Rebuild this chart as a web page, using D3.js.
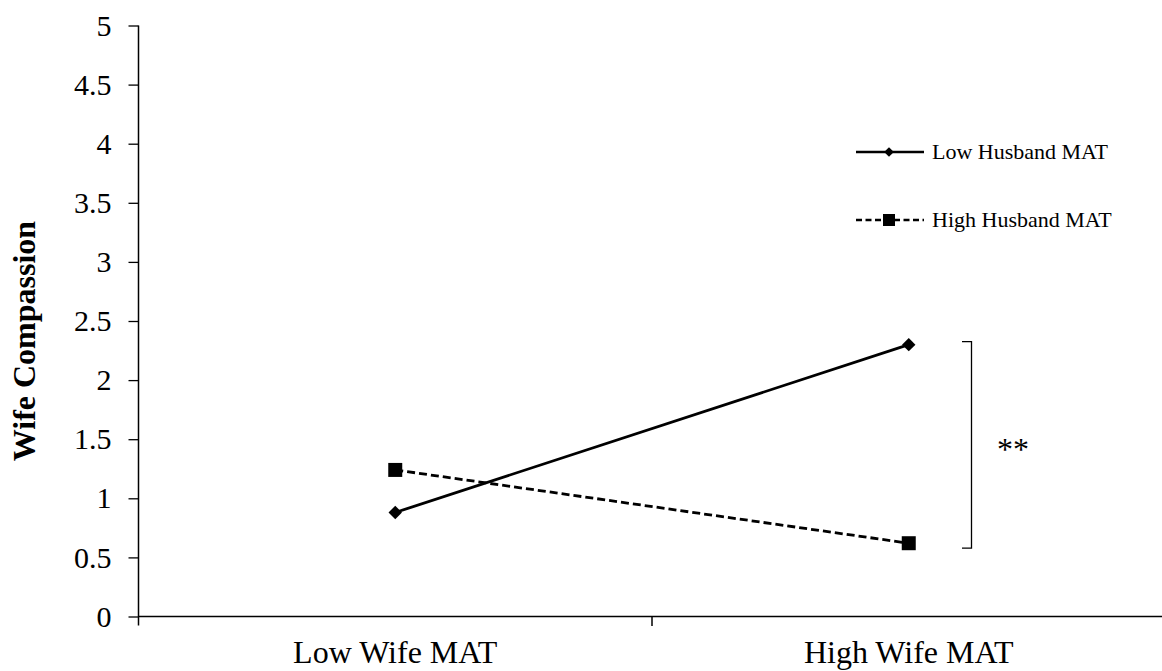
<!DOCTYPE html>
<html><head><meta charset="utf-8">
<script src="https://cdn.jsdelivr.net/npm/d3@7"></script>
<style>body{margin:0;background:#fff}svg{display:block}text{font-family:"Liberation Serif","Times New Roman",serif;fill:#000}</style>
</head><body>
<svg id="c" width="1162" height="671"></svg>
<script>
const categories = ["Low Wife MAT", "High Wife MAT"];
const lowHusband = [0.88, 2.30];
const highHusband = [1.24, 0.62];
const seriesNames = ["Low Husband MAT", "High Husband MAT"];
const yTicks = [0, 0.5, 1, 1.5, 2, 2.5, 3, 3.5, 4, 4.5, 5];

const svg = d3.select("#c");
const x = d3.scaleBand().domain(categories).range([138.5, 1165.5]);
const y = d3.scaleLinear().domain([0, 5]).range([616.5, 25.5]);

// y axis
const ya = svg.append("g").attr("transform", "translate(138.5,0)")
  .call(d3.axisLeft(y).tickValues(yTicks).tickSize(10).tickPadding(17).tickFormat(d => String(d)));
ya.attr("font-size", 30).attr("font-family", "Liberation Serif");
ya.select(".domain").remove();
ya.selectAll("line").attr("stroke", "#000").attr("stroke-width", 1.3);
ya.selectAll("text").attr("fill", "#000");
svg.append("line").attr("x1", 138.5).attr("x2", 138.5).attr("y1", 25.5).attr("y2", 625.5)
  .attr("stroke", "#000").attr("stroke-width", 1.5);

// x axis
svg.append("line").attr("x1", 138.5).attr("x2", 1162).attr("y1", 616.5).attr("y2", 616.5)
  .attr("stroke", "#000").attr("stroke-width", 1.5);
const bounds = categories.slice(1).map(c => x(c));
svg.selectAll(".xt").data(bounds).enter().append("line")
  .attr("x1", d => d).attr("x2", d => d).attr("y1", 616.5).attr("y2", 626)
  .attr("stroke", "#000").attr("stroke-width", 1.5);
svg.selectAll(".xl").data(categories).enter().append("text")
  .attr("x", d => x(d) + x.bandwidth() / 2).attr("y", 663)
  .attr("text-anchor", "middle").style("font-size", "32px").text(d => d);

// y title
svg.append("text").attr("transform", "translate(35,341) rotate(-90)")
  .attr("text-anchor", "middle").style("font-size", "32px").attr("font-weight", "bold").text("Wife Compassion");

const cx = c => x(c) + x.bandwidth() / 2;
const line = d3.line().x((d, i) => cx(categories[i])).y(d => y(d));

svg.append("path").datum(lowHusband).attr("d", line).attr("fill", "none")
  .attr("stroke", "#000").attr("stroke-width", 2.8);
svg.append("path").datum(highHusband).attr("d", line).attr("fill", "none")
  .attr("stroke", "#000").attr("stroke-width", 2.8).attr("stroke-dasharray", "8,4");

const diamond = d3.symbol().type(d3.symbolDiamond2).size(115);
const square = d3.symbol().type(d3.symbolSquare).size(196);
svg.selectAll(".dm").data(lowHusband).enter().append("path")
  .attr("d", diamond).attr("transform", (d, i) => `translate(${cx(categories[i])},${y(d)})`)
  .attr("fill", "#000");
svg.selectAll(".sq").data(highHusband).enter().append("path")
  .attr("d", square).attr("transform", (d, i) => `translate(${cx(categories[i])},${y(d)})`)
  .attr("fill", "#000");

// legend
const legY = [152, 220];
svg.append("line").attr("x1", 856).attr("x2", 924).attr("y1", legY[0]).attr("y2", legY[0])
  .attr("stroke", "#000").attr("stroke-width", 2.6);
svg.append("path").attr("d", d3.symbol().type(d3.symbolDiamond2).size(60))
  .attr("transform", `translate(889,${legY[0]})`).attr("fill", "#000");
svg.append("line").attr("x1", 856).attr("x2", 924).attr("y1", legY[1]).attr("y2", legY[1])
  .attr("stroke", "#000").attr("stroke-width", 2.6).attr("stroke-dasharray", "6,3.5");
svg.append("path").attr("d", d3.symbol().type(d3.symbolSquare).size(144))
  .attr("transform", `translate(889,${legY[1]})`).attr("fill", "#000");
svg.selectAll(".lt").data(seriesNames).enter().append("text")
  .attr("x", 932).attr("y", (d, i) => legY[i] + 7).style("font-size", "22px").text(d => d);

// significance bracket
const bTop = y(lowHusband[1]) - 3, bBot = y(highHusband[1]) + 5;
svg.append("path").attr("d", `M962,${bTop}H971.5V${bBot}H962`).attr("fill", "none")
  .attr("stroke", "#000").attr("stroke-width", 1.3);
svg.append("text").attr("x", 1013).attr("y", 460).attr("text-anchor", "middle").style("font-size", "32px").text("**");
</script>
</body></html>
